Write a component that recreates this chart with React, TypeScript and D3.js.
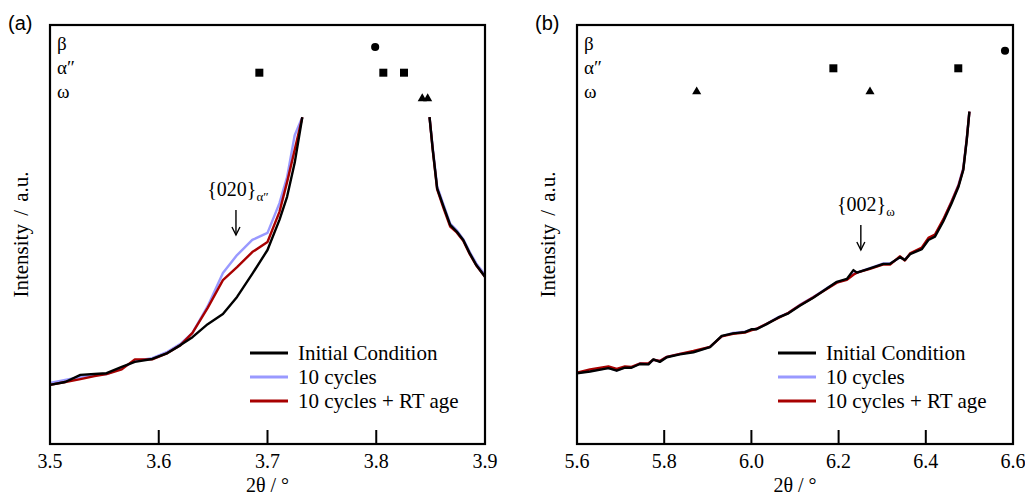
import React from "react";
import * as d3 from "d3";

// ---------- Panel (a) data ----------
const aXLeft = [3.5, 3.514, 3.528, 3.541, 3.552, 3.566, 3.578, 3.594, 3.608, 3.62, 3.631, 3.645, 3.659, 3.672, 3.686, 3.7, 3.711, 3.718, 3.725, 3.732];
const aBlackLeft = [14.1, 14.8, 16.5, 16.7, 16.9, 18.4, 19.6, 20.3, 21.7, 23.6, 25.5, 28.6, 31.0, 35.1, 40.6, 46.3, 53.5, 59.0, 67.1, 78.0];
const aBlueLeft = [14.6, 15.3, 16.0, 16.5, 16.7, 18.1, 19.8, 20.5, 22.0, 23.9, 26.5, 32.9, 40.8, 45.1, 48.7, 50.4, 57.5, 63.7, 73.7, 78.0];
const aRedLeft = [14.1, 14.8, 15.5, 16.2, 16.7, 17.8, 20.2, 20.2, 21.7, 23.6, 26.5, 32.5, 39.1, 42.2, 45.8, 48.2, 55.4, 62.5, 70.2, 78.0];

const aXRight = [3.849, 3.852, 3.856, 3.862, 3.868, 3.874, 3.88, 3.886, 3.892, 3.9];
const aBlackRight = [78.0, 70.2, 61.0, 56.6, 52.3, 50.7, 48.7, 45.5, 42.7, 39.9];
const aBlueRight = [78.0, 70.6, 61.5, 57.0, 52.6, 51.0, 48.9, 45.8, 43.1, 40.4];
const aRedRight = [78.0, 70.0, 60.8, 56.2, 51.9, 50.5, 48.5, 45.3, 42.6, 39.9];

const aTicks = [3.5, 3.6, 3.7, 3.8, 3.9];
const aBetaPeaks = [3.799];
const aAlphaPeaks = [3.6925, 3.8065, 3.8255];
const aOmegaPeaks = [3.8423, 3.8473];

// ---------- Panel (b) data ----------
const bX = [5.6, 5.63, 5.672, 5.691, 5.71, 5.725, 5.744, 5.764, 5.775, 5.79, 5.806, 5.836, 5.867, 5.905, 5.932, 5.958, 5.985, 6.001, 6.012, 6.035, 6.062, 6.085, 6.111, 6.142, 6.173, 6.196, 6.219, 6.234, 6.242, 6.272, 6.303, 6.318, 6.341, 6.352, 6.364, 6.391, 6.406, 6.421, 6.44, 6.459, 6.475, 6.486, 6.494, 6.5];
const bBlack = [16.9, 17.3, 18.1, 17.5, 18.2, 18.2, 19.1, 19.0, 20.2, 19.6, 20.7, 21.4, 21.9, 23.1, 25.8, 26.4, 26.7, 27.4, 27.4, 28.6, 30.2, 31.2, 33.0, 34.9, 37.1, 38.7, 39.4, 41.5, 40.9, 41.9, 43.0, 43.0, 44.6, 43.9, 45.3, 46.5, 48.7, 49.5, 53.1, 57.4, 61.4, 65.4, 72.6, 79.3];
const bBlue = [17.0, 17.4, 18.2, 17.6, 18.3, 18.3, 19.2, 19.1, 20.1, 19.8, 20.8, 21.5, 22.0, 23.2, 25.7, 26.5, 26.8, 27.3, 27.5, 28.7, 30.3, 31.3, 33.2, 35.1, 37.2, 38.6, 39.3, 40.6, 40.9, 42.0, 43.1, 43.1, 44.5, 44.0, 45.4, 46.7, 48.9, 49.8, 53.4, 57.9, 61.9, 65.9, 73.0, 79.3];
const bRed = [17.0, 17.8, 18.5, 17.9, 18.5, 18.4, 19.2, 19.3, 20.1, 19.8, 20.8, 21.5, 22.2, 23.2, 25.7, 26.3, 26.6, 27.2, 27.5, 28.7, 30.1, 31.3, 33.1, 35.0, 37.0, 38.5, 39.2, 40.4, 40.9, 41.8, 42.9, 42.8, 44.8, 43.8, 45.5, 46.9, 49.2, 50.0, 53.6, 57.8, 61.7, 65.6, 72.8, 79.3];

const bTicks = [5.6, 5.8, 6.0, 6.2, 6.4, 6.6];
const bBetaPeaks = [6.5817];
const bAlphaPeaks = [6.188, 6.4745];
const bOmegaPeaks = [5.8745, 6.272];

const seriesNames = ["Initial Condition", "10 cycles", "10 cycles + RT age"];
const seriesColors = ["#000000", "#9999ff", "#a80000"];
const phaseLabels = ["β", "α″", "ω"];

const SERIF = "Liberation Serif, Tinos, Times New Roman, DejaVu Serif, serif";
const SANS = "Liberation Sans, Arial, sans-serif";

const TOP = 25;
const BOTTOM = 444;

type Seg = { x: number[]; ys: number[][] };

interface PanelProps {
  label: string;
  left: number;
  right: number;
  domain: [number, number];
  ticks: number[];
  tickFmt: (v: number) => string;
  segs: Seg[];
  beta: number[];
  alpha: number[];
  omega: number[];
  markerRows: [number, number, number];
  annot: { x: number; main: string; sub: string; dx: number; textY: number; subSize: number };
  legendX: number;
}

const serifStyle = (size: number): React.CSSProperties => ({ fontFamily: SERIF, fontSize: size });

function Panel(p: PanelProps) {
  const x = d3.scaleLinear().domain(p.domain).range([p.left, p.right]);
  const y = d3.scaleLinear().domain([0, 100]).range([BOTTOM, TOP]);
  const line = d3
    .line<[number, number]>()
    .x((d) => x(d[0]))
    .y((d) => y(d[1]));
  const order = [1, 2, 0];
  const cx = (p.left + p.right) / 2;
  const cy = (TOP + BOTTOM) / 2;
  const sq = d3.symbol(d3.symbolSquare, 64)()!;
  const tri = d3.symbol(d3.symbolTriangle, 36)()!;
  const circ = d3.symbol(d3.symbolCircle, 52)()!;
  const ax = x(p.annot.x);
  return (
    <g>
      <text x={p.left - 42} y={30} style={{ fontFamily: SANS, fontSize: 20 }}>
        {p.label}
      </text>
      {order.map((si) =>
        p.segs.map((s, k) => (
          <path
            key={si + "-" + k}
            d={line(s.x.map((xv, i) => [xv, s.ys[si][i]] as [number, number])) || ""}
            fill="none"
            stroke={seriesColors[si]}
            strokeWidth={2.4}
            strokeLinejoin="round"
          />
        ))
      )}
      <rect x={p.left} y={TOP} width={p.right - p.left} height={BOTTOM - TOP} fill="none" stroke="#000" strokeWidth={2.2} />
      {p.ticks.map((t) => (
        <g key={t}>
          <line x1={x(t)} x2={x(t)} y1={BOTTOM} y2={BOTTOM - 14} stroke="#000" strokeWidth={2} />
          <text x={x(t)} y={468} textAnchor="middle" style={serifStyle(20)}>
            {p.tickFmt(t)}
          </text>
        </g>
      ))}
      <text x={cx} y={492} textAnchor="middle" style={serifStyle(20)}>
        2θ / °
      </text>
      <text
        transform={`translate(${p.left - 22},${cy}) rotate(-90)`}
        textAnchor="middle"
        style={{ ...serifStyle(21), wordSpacing: 3 }}
      >
        Intensity / a.u.
      </text>
      {phaseLabels.map((ph, i) => (
        <text key={ph} x={p.left + 7} y={50 + i * 24} style={serifStyle(19)}>
          {ph}
        </text>
      ))}
      {p.beta.map((v) => (
        <path key={"b" + v} d={circ} transform={`translate(${x(v)},${p.markerRows[0]})`} fill="#000" />
      ))}
      {p.alpha.map((v) => (
        <path key={"a" + v} d={sq} transform={`translate(${x(v)},${p.markerRows[1]})`} fill="#000" />
      ))}
      {p.omega.map((v) => (
        <path key={"o" + v} d={tri} transform={`translate(${x(v)},${p.markerRows[2]})`} fill="#000" />
      ))}
      <text x={ax + p.annot.dx} y={p.annot.textY} textAnchor="middle" style={serifStyle(20)}>
        {p.annot.main}
        <tspan style={{ fontSize: p.annot.subSize }} dy={5}>
          {p.annot.sub}
        </tspan>
      </text>
      <g stroke="#000" strokeWidth={1.4} fill="none">
        <line x1={ax} x2={ax} y1={p.annot.textY + 14} y2={p.annot.textY + 39} />
        <polyline points={`${ax - 4},${p.annot.textY + 31} ${ax},${p.annot.textY + 39} ${ax + 4},${p.annot.textY + 31}`} />
      </g>
      {seriesNames.map((n, i) => (
        <g key={n}>
          <line x1={p.legendX} x2={p.legendX + 38} y1={353 + i * 24} y2={353 + i * 24} stroke={seriesColors[i]} strokeWidth={3} />
          <text x={p.legendX + 48} y={360 + i * 24} style={serifStyle(21)}>
            {n}
          </text>
        </g>
      ))}
    </g>
  );
}

export default function App() {
  const fmt = d3.format(".1f");
  return (
    <svg width={1025} height={496} style={{ position: "absolute", left: 0, top: 0, background: "#fff" }}>
      <rect width={1025} height={496} fill="#fff" />
      <Panel
        label="(a)"
        left={50}
        right={485}
        domain={[3.5, 3.9]}
        ticks={aTicks}
        tickFmt={fmt}
        segs={[
          { x: aXLeft, ys: [aBlackLeft, aBlueLeft, aRedLeft] },
          { x: aXRight, ys: [aBlackRight, aBlueRight, aRedRight] },
        ]}
        beta={aBetaPeaks}
        alpha={aAlphaPeaks}
        omega={aOmegaPeaks}
        markerRows={[47, 72.7, 98.5]}
        annot={{ x: 3.671, main: "{020}", sub: "α″", dx: 2, textY: 196, subSize: 13 }}
        legendX={250}
      />
      <Panel
        label="(b)"
        left={577}
        right={1013}
        domain={[5.6, 6.6]}
        ticks={bTicks}
        tickFmt={fmt}
        segs={[{ x: bX, ys: [bBlack, bBlue, bRed] }]}
        beta={bBetaPeaks}
        alpha={bAlphaPeaks}
        omega={bOmegaPeaks}
        markerRows={[50.7, 68.3, 91.7]}
        annot={{ x: 6.251, main: "{002}", sub: "ω", dx: 5, textY: 211, subSize: 13 }}
        legendX={778}
      />
    </svg>
  );
}
